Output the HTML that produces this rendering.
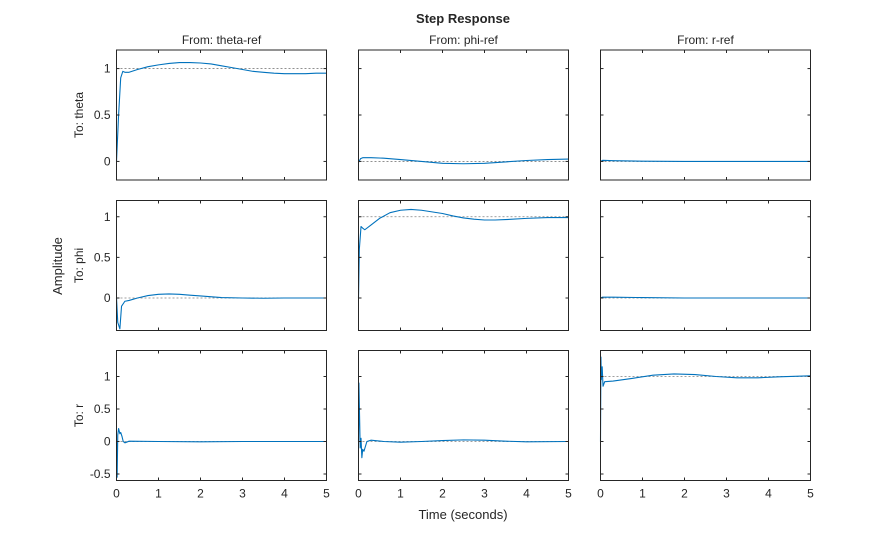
<!DOCTYPE html>
<html><head><meta charset="utf-8"><style>
body{margin:0;background:#fff}
svg text{font-family:"Liberation Sans",Arial,sans-serif;fill:#262626}
</style></head><body>
<svg id="chart" width="895" height="540" xmlns="http://www.w3.org/2000/svg">
<rect width="895" height="540" fill="#fff"/>
<text x="463" y="23" font-size="13" font-weight="bold" text-anchor="middle">Step Response</text>
<text x="463" y="519" font-size="13" text-anchor="middle">Time (seconds)</text>
<text x="0" y="0" font-size="13" text-anchor="middle" transform="translate(62,266) rotate(-90)">Amplitude</text>
</svg>
<script>
const inputs = ["From: theta-ref","From: phi-ref","From: r-ref"];
const outputs = ["To: theta","To: phi","To: r"];
const xTicks = [0,1,2,3,4,5];
const yLimits = [[-0.2,1.2],[-0.4,1.2],[-0.6,1.4]];
const yTicks = [[0,0.5,1],[0,0.5,1],[-0.5,0,0.5,1]];
const yTickLabels = [["0","0.5","1"],["0","0.5","1"],["-0.5","0","0.5","1"]];
const steady = [[1,0,0],[0,1,0],[0,0,1]];
const t11 = [0,0.05,0.1,0.15,0.2,0.3,0.5,0.75,1,1.25,1.5,1.75,2,2.25,2.5,2.75,3,3.25,3.5,3.75,4,4.25,4.5,4.75,5];
const y11 = [0,0.5,0.9,0.97,0.96,0.96,0.99,1.02,1.04,1.055,1.065,1.065,1.06,1.05,1.03,1.01,0.99,0.97,0.96,0.95,0.945,0.945,0.945,0.95,0.95];
const t12 = [0,0.05,0.1,0.3,0.6,1,1.5,2,2.5,3,3.5,4,4.5,5];
const y12 = [-0.01,0.03,0.04,0.04,0.035,0.02,0,-0.02,-0.025,-0.02,-0.005,0.01,0.02,0.025];
const t13 = [0,0.05,0.3,1,2,3,4,5];
const y13 = [0,0.012,0.008,0.003,0,0,0,0];
const t21 = [0,0.03,0.08,0.12,0.2,0.3,0.5,0.75,1,1.25,1.5,1.75,2,2.5,3,3.5,4,5];
const y21 = [0,-0.3,-0.38,-0.1,-0.04,-0.03,0,0.03,0.045,0.05,0.045,0.035,0.025,0.005,0,-0.003,0,0];
const t22 = [0,0.02,0.06,0.1,0.15,0.3,0.5,0.75,1,1.25,1.5,1.75,2,2.25,2.5,2.75,3,3.25,3.5,4,4.5,5];
const y22 = [0,0.6,0.88,0.86,0.84,0.9,0.98,1.05,1.08,1.09,1.08,1.06,1.04,1.01,0.985,0.97,0.96,0.96,0.965,0.98,0.99,0.99];
const t23 = [0,0.05,0.3,1,2,3,4,5];
const y23 = [0,0.01,0.01,0.005,0,0,0,0];
const t31 = [0,0.015,0.03,0.05,0.08,0.1,0.13,0.16,0.2,0.3,1,2,3,4,5];
const y31 = [0,-0.55,0.1,0.2,0.12,0.14,0.08,0,-0.02,0.005,0,-0.005,0,0,0];
const t32 = [0,0.01,0.025,0.04,0.06,0.08,0.1,0.13,0.2,0.3,0.6,1,1.5,2,2.5,3,3.5,4,5];
const y32 = [0,0.9,0.4,-0.1,0.05,-0.25,-0.12,-0.15,0,0.02,0,-0.01,0,0.015,0.025,0.02,0.005,-0.005,0];
const t33 = [0,0.01,0.02,0.04,0.06,0.1,0.3,0.75,1.25,1.75,2.25,2.75,3.25,3.75,4.25,5];
const y33 = [0,1.3,0.95,1.15,0.85,0.92,0.93,0.97,1.02,1.04,1.03,1.0,0.98,0.98,0.995,1.01];
const tS = [[t11,t12,t13],[t21,t22,t23],[t31,t32,t33]];
const yS = [[y11,y12,y13],[y21,y22,y23],[y31,y32,y33]];

const NS="http://www.w3.org/2000/svg";
const svg=document.getElementById('chart');
const colX=[116.5,358.5,600.5], W=210;
const rowY=[50,200.5,350.5], H=130;
function mk(tag,attrs,parent){const e=document.createElementNS(NS,tag);for(const k in attrs)e.setAttribute(k,attrs[k]);(parent||svg).appendChild(e);return e;}
for(let r=0;r<3;r++){for(let c=0;c<3;c++){
  const x0=colX[c], y0=rowY[r];
  const [lo,hi]=yLimits[r];
  const sx=v=>x0+v/5*W;
  const sy=v=>y0+(hi-v)/(hi-lo)*H;
  const g=mk('g',{});
  
  
  // reference line
  const ref=mk('line',{x1:x0,x2:x0+W,y1:sy(steady[r][c]),y2:sy(steady[r][c]),stroke:'#808080','stroke-width':0.8,'stroke-dasharray':'2,2'},g);
  
  
  // series
  const ts=tS[r][c], ys=yS[r][c];
  let d='';
  for(let i=0;i<ts.length;i++){d+=(i?'L':'M')+sx(ts[i]).toFixed(2)+','+sy(ys[i]).toFixed(2);}
  const p=mk('path',{d:d,fill:'none',stroke:'#0072bd','stroke-width':1.1,'stroke-linejoin':'round'},g);
  
  
  // box
  const b=mk('rect',{x:x0,y:y0,width:W,height:H,fill:'none',stroke:'#262626','stroke-width':1},g);
  
  
  for(const v of xTicks){
    mk('line',{x1:sx(v),x2:sx(v),y1:y0+H,y2:y0+H-3,stroke:'#262626'},g);
    mk('line',{x1:sx(v),x2:sx(v),y1:y0,y2:y0+3,stroke:'#262626'},g);
    if(r===2){const t=mk('text',{x:sx(v),y:y0+H+17,'font-size':12,'text-anchor':'middle'},g);t.textContent=v;
      
      }
  }
  yTicks[r].forEach((v,i)=>{
    mk('line',{x1:x0,x2:x0+3,y1:sy(v),y2:sy(v),stroke:'#262626'},g);
    mk('line',{x1:x0+W,x2:x0+W-3,y1:sy(v),y2:sy(v),stroke:'#262626'},g);
    if(c===0){const t=mk('text',{x:x0-6,y:sy(v)+4,'font-size':12,'text-anchor':'end'},g);t.textContent=yTickLabels[r][i];
      
      }
  });
  if(r===0){const t=mk('text',{x:x0+W/2,y:44,'font-size':12,'text-anchor':'middle'},g);t.textContent=inputs[c];
    
    }
  if(c===0){const t=mk('text',{x:0,y:0,'font-size':12,'text-anchor':'middle',transform:'translate(83,'+(y0+H/2)+') rotate(-90)'},g);t.textContent=outputs[r];
    
    }
}}
</script>
</body></html>
